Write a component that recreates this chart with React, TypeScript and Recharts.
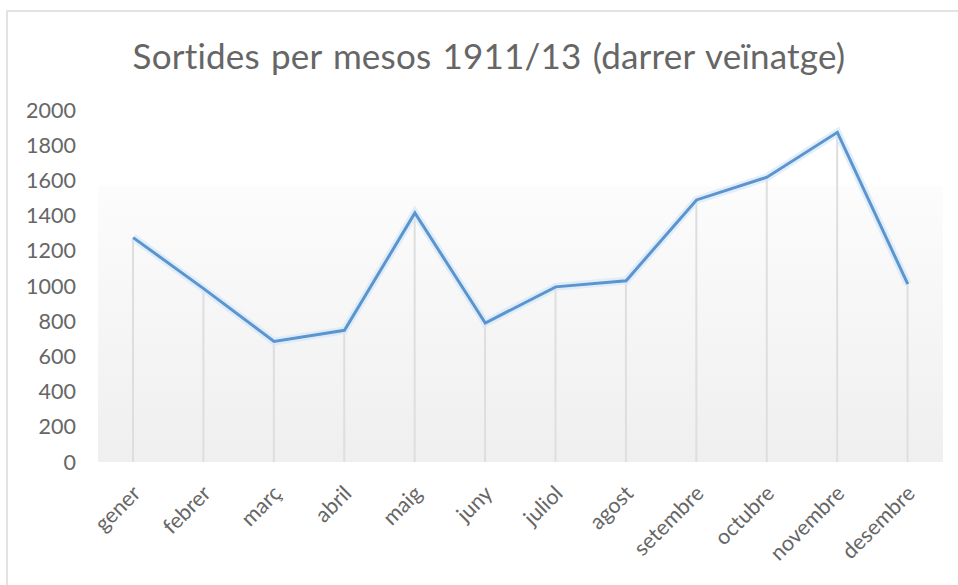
import { ComposedChart, Bar, Line, XAxis, YAxis, CartesianGrid } from "recharts"

const months = ["gener", "febrer", "març", "abril", "maig", "juny", "juliol", "agost", "setembre", "octubre", "novembre", "desembre"]
const sortides = [1275, 985, 685, 748, 1415, 790, 995, 1030, 1489, 1618, 1873, 1010]
const yTicks = [0, 200, 400, 600, 800, 1000, 1200, 1400, 1600, 1800, 2000]

const data = months.map((m, i) => ({ month: m, value: sortides[i] }))

const font = "Lato, 'Open Sans', sans-serif"

const MonthTick = (props: any) => {
  const { x, y, payload } = props
  return (
    <g transform={`translate(${x},${y + 22})`}>
      <text transform="rotate(-45)" textAnchor="end" x={4} y={8} fill="#666666" fontSize={21.5} fontFamily={font}>
        {payload.value}
      </text>
    </g>
  )
}

export default function App() {
  return (
    <div style={{ position: "absolute", left: 0, top: 0, width: 958, height: 585, background: "#fff", overflow: "hidden" }}>
      <div style={{ position: "absolute", left: 6, top: 10, width: 960, height: 600, border: "2px solid #e3e3e3", boxSizing: "border-box" }} />
      <div style={{ position: "absolute", left: 0, top: 34, width: 978, textAlign: "center", fontFamily: font, fontSize: 35, color: "#666666", letterSpacing: 0.2, wordSpacing: 2 }}>
        Sortides per mesos 1911/13 (darrer veïnatge)
      </div>
      <div style={{ position: "absolute", left: 0, top: 0 }}>
        <ComposedChart width={958} height={585} data={data} margin={{ top: 110, right: 15, bottom: 0, left: 0 }}>
          <defs>
            <linearGradient id="plotBg" x1="0" y1="0" x2="0" y2="1">
              <stop offset="0" stopColor="#ffffff" />
              <stop offset="0.21" stopColor="#ffffff" />
              <stop offset="0.22" stopColor="#fcfcfc" />
              <stop offset="1" stopColor="#efefef" />
            </linearGradient>
          </defs>
          <CartesianGrid horizontal={false} vertical={false} fill="url(#plotBg)" />
          <XAxis dataKey="month" axisLine={false} tickLine={false} interval={0} height={123} tick={<MonthTick />} />
          <YAxis
            domain={[0, 2000]}
            ticks={yTicks}
            axisLine={false}
            tickLine={false}
            width={98}
            tickMargin={16}
            tick={{ fill: "#666666", fontSize: 21.5, fontFamily: font }}
          />
          <Bar dataKey="value" barSize={2} fill="#dedede" isAnimationActive={false} />
          <Line dataKey="value" type="linear" stroke="#d6e8f8" strokeWidth={8} strokeOpacity={0.7} dot={false} isAnimationActive={false} legendType="none" />
          <Line dataKey="value" type="linear" stroke="#5b95cf" strokeWidth={3} dot={false} isAnimationActive={false} />
        </ComposedChart>
      </div>
    </div>
  )
}
